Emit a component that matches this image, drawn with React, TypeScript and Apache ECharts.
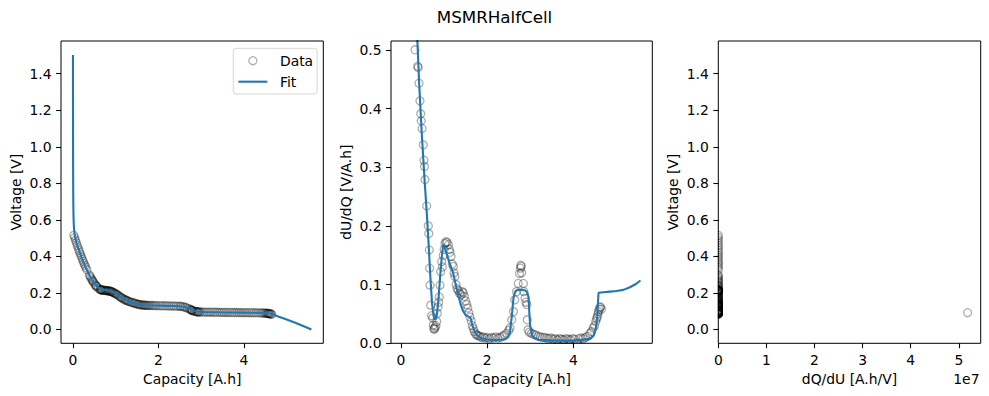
import React, { useEffect, useRef } from "react";
import * as echarts from "echarts";

// ---- measured data (Capacity [A.h], Voltage [V], dU/dQ [V/A.h]) ----
const dataCapacity = [
  0.02, 0.04, 0.06, 0.08, 0.1, 0.12, 0.14, 0.16, 0.18, 0.2, 0.22, 0.24, 0.26, 0.28, 0.3,
  0.325, 0.385, 0.4, 0.418, 0.44, 0.457, 0.47, 0.49, 0.517, 0.534, 0.545, 0.557, 0.596,
  0.634, 0.645, 0.657, 0.665, 0.673, 0.689, 0.71, 0.735, 0.75, 0.76, 0.775, 0.79, 0.81,
  0.83, 0.843, 0.86, 0.875, 0.889, 0.905, 0.92, 0.944, 0.96, 0.98, 1.0, 1.02, 1.044,
  1.07, 1.1, 1.12, 1.137, 1.16, 1.19, 1.214, 1.23, 1.25, 1.28, 1.3, 1.33, 1.36, 1.39,
  1.42, 1.446, 1.47, 1.5, 1.524, 1.55, 1.575, 1.6, 1.63, 1.655, 1.678, 1.7, 1.73, 1.76,
  1.79, 1.83, 1.87, 1.91, 1.95, 2.0, 2.05, 2.1, 2.15, 2.2, 2.25, 2.3, 2.35, 2.4, 2.45,
  2.5, 2.53, 2.57, 2.61, 2.64, 2.68, 2.72, 2.75, 2.77, 2.78, 2.79, 2.8, 2.84, 2.85, 2.88,
  2.9, 2.92, 2.93, 2.95, 2.98, 3.03, 3.08, 3.13, 3.18, 3.23, 3.28, 3.33, 3.38, 3.43,
  3.48, 3.53, 3.58, 3.63, 3.68, 3.73, 3.78, 3.83, 3.88, 3.93, 3.98, 4.03, 4.08, 4.13,
  4.18, 4.23, 4.28, 4.33, 4.385, 4.42, 4.46, 4.49, 4.52, 4.54, 4.556, 4.57, 4.58, 4.6,
  4.617, 4.633, 4.65,
];
const dataVoltage = [
  0.515, 0.502, 0.488, 0.474, 0.46, 0.447, 0.434, 0.421, 0.408, 0.396, 0.384, 0.372, 0.361, 0.35, 0.339,
  0.326, 0.298, 0.291, 0.283, 0.274, 0.267, 0.262, 0.255, 0.246, 0.24, 0.237, 0.234, 0.226,
  0.219, 0.218, 0.217, 0.216, 0.2155, 0.215, 0.2145, 0.214, 0.2135, 0.2133, 0.213, 0.2125, 0.212,
  0.211, 0.2107, 0.21, 0.209, 0.208, 0.207, 0.205, 0.202, 0.2, 0.198, 0.195, 0.192, 0.189,
  0.184, 0.179, 0.176, 0.173, 0.17, 0.166, 0.163, 0.161, 0.159, 0.156, 0.154, 0.151, 0.149, 0.147,
  0.145, 0.143, 0.141, 0.139, 0.138, 0.136, 0.135, 0.134, 0.1335, 0.133, 0.1325, 0.132, 0.1317, 0.1315,
  0.1312, 0.131, 0.1307, 0.1305, 0.1302, 0.13, 0.1297, 0.1295, 0.1292, 0.129, 0.1287, 0.1285, 0.128, 0.1275, 0.127,
  0.1265, 0.1258, 0.1245, 0.1225, 0.12, 0.1165, 0.1125, 0.109, 0.1065, 0.1052, 0.104, 0.1028, 0.1, 0.099, 0.0975,
  0.0965, 0.096, 0.0958, 0.0955, 0.0952, 0.095, 0.0948, 0.0946, 0.0944, 0.0942, 0.094, 0.0939, 0.0937, 0.0935,
  0.0934, 0.0932, 0.093, 0.0929, 0.0927, 0.0926, 0.0924, 0.0923, 0.0921, 0.092, 0.0919, 0.0918, 0.0917, 0.0916,
  0.0914, 0.0912, 0.091, 0.0908, 0.0905, 0.0902, 0.0898, 0.0893, 0.0888, 0.0883, 0.0878, 0.0872, 0.0866, 0.0858,
  0.085, 0.084, 0.083,
];
const dataDUdQ = [
  0.8, 0.78, 0.75, 0.72, 0.7, 0.68, 0.66, 0.64, 0.62, 0.6, 0.59, 0.57, 0.56, 0.55, 0.53,
  0.5, 0.472, 0.47, 0.443, 0.413, 0.391, 0.379, 0.366, 0.338, 0.312, 0.301, 0.279, 0.234,
  0.2, 0.187, 0.159, 0.128, 0.099, 0.065, 0.047, 0.043, 0.031, 0.025, 0.024, 0.027, 0.03,
  0.037, 0.051, 0.062, 0.07, 0.079, 0.099, 0.122, 0.139, 0.13, 0.15, 0.16, 0.17, 0.173,
  0.172, 0.168, 0.16, 0.155, 0.148, 0.135, 0.131, 0.12, 0.114, 0.1, 0.093, 0.09, 0.085, 0.083,
  0.088, 0.086, 0.08, 0.072, 0.066, 0.06, 0.052, 0.045, 0.038, 0.03, 0.025, 0.02, 0.016, 0.014,
  0.013, 0.012, 0.01, 0.011, 0.009, 0.01, 0.008, 0.01, 0.009, 0.011, 0.009, 0.01, 0.012, 0.014, 0.017,
  0.022, 0.026, 0.04, 0.054, 0.074, 0.088, 0.102, 0.119, 0.128, 0.133, 0.131, 0.12, 0.102, 0.088, 0.077,
  0.07, 0.066, 0.04, 0.023, 0.019, 0.017, 0.015, 0.014, 0.012, 0.011, 0.01, 0.01, 0.009, 0.008,
  0.009, 0.007, 0.008, 0.006, 0.008, 0.007, 0.006, 0.008, 0.007, 0.006, 0.008, 0.007, 1.93e-8, 0.008,
  0.009, 0.008, 0.01, 0.012, 0.017, 0.02, 0.026, 0.03, 0.037, 0.042, 0.045, 0.05, 0.054, 0.058,
  0.061, 0.062, 0.058,
];

// ---- fitted model ----
const fitCapacity = [
  0, 0.001, 0.002, 0.004, 0.006, 0.008, 0.01, 0.015, 0.02, 0.03, 0.05, 0.1, 0.2, 0.3, 0.4, 0.5,
  0.6, 0.7, 0.8, 0.9, 1.0, 1.1, 1.2, 1.3, 1.4, 1.5, 1.6, 1.7, 1.8, 2.0, 2.2, 2.4, 2.5, 2.6,
  2.7, 2.8, 2.9, 3.0, 3.1, 3.3, 3.6, 4.0, 4.3, 4.5, 4.58, 4.65, 4.8, 5.0, 5.2, 5.4, 5.577,
];
const fitVoltage = [
  1.503, 1.2, 1.0, 0.85, 0.75, 0.69, 0.65, 0.6, 0.57, 0.54, 0.505, 0.46, 0.393, 0.338, 0.29, 0.252,
  0.228, 0.218, 0.214, 0.209, 0.196, 0.18, 0.166, 0.154, 0.146, 0.14, 0.1355, 0.132, 0.131, 0.13, 0.129, 0.128, 0.127, 0.1245,
  0.116, 0.107, 0.098, 0.095, 0.0945, 0.094, 0.093, 0.092, 0.091, 0.09, 0.088, 0.084, 0.071, 0.054, 0.036, 0.017, 0.0,
];
const fitDerivCapacity = [
  0.3, 0.34, 0.38, 0.42, 0.48, 0.55, 0.6, 0.64, 0.68, 0.72, 0.76, 0.79, 0.83, 0.87, 0.91, 0.95,
  0.98, 1.0, 1.06, 1.14, 1.21, 1.27, 1.33, 1.39, 1.44, 1.5, 1.58, 1.62, 1.65, 1.7, 1.76, 1.85,
  2.0, 2.2, 2.4, 2.48, 2.53, 2.57, 2.61, 2.65, 2.7, 2.8, 2.88, 2.93, 2.96, 2.98, 3.0, 3.05,
  3.1, 3.2, 3.6, 4.0, 4.39, 4.47, 4.52, 4.555, 4.575, 4.585, 4.7, 4.85, 5.0, 5.16, 5.3, 5.45, 5.557,
];
const fitDUdQ = [
  0.64, 0.575, 0.515, 0.445, 0.36, 0.275, 0.22, 0.17, 0.115, 0.068, 0.045, 0.04, 0.047, 0.075, 0.115, 0.15,
  0.168, 0.167, 0.152, 0.134, 0.12, 0.1, 0.082, 0.065, 0.055, 0.048, 0.045, 0.042, 0.032, 0.022, 0.014, 0.009,
  0.0065, 0.0057, 0.0065, 0.01, 0.02, 0.045, 0.077, 0.088, 0.091, 0.091, 0.09, 0.087, 0.078, 0.05, 0.028, 0.012,
  0.0085, 0.006, 0.0045, 0.0045, 0.0075, 0.013, 0.025, 0.045, 0.075, 0.086, 0.087, 0.088, 0.089, 0.091, 0.095, 0.101, 0.107,
];

// ---- ticks ----
const voltageTicks = [0, 0.2, 0.4, 0.6, 0.8, 1.0, 1.2, 1.4];
const derivTicks = [0, 0.1, 0.2, 0.3, 0.4, 0.5];
const capacityTicks = [0, 2, 4];
const dqduTicks = [0, 1e7, 2e7, 3e7, 4e7, 5e7];

const FONT = "DejaVu Sans";
const FS = 13.9;
const FIT = "#1f77b4";
const EDGE = "rgba(0,0,0,0.4)";

function axis(opts: any) {
  const { min, max, ticks, fmt, name, nameGap, gridIndex, isY } = opts;
  return {
    type: "value",
    gridIndex,
    min,
    max,
    z: 10,
    name,
    nameLocation: "middle",
    nameGap,
    nameRotate: isY ? 90 : 0,
    nameTextStyle: { fontFamily: FONT, fontSize: FS, color: "#000" },
    axisLine: { show: false, onZero: false },
    splitLine: { show: false },
    axisTick: {
      show: true,
      inside: false,
      length: 4.9,
      customValues: ticks,
      lineStyle: { color: "#000", width: 1.1 },
    },
    axisLabel: {
      show: true,
      margin: 9.5,
      customValues: ticks,
      formatter: fmt,
      fontFamily: FONT,
      fontSize: FS,
      color: "#000",
    },
  };
}

export default function App() {
  const ref = useRef<HTMLDivElement>(null);
  useEffect(() => {
    if (!ref.current) return;
    const chart = echarts.init(ref.current, null, { renderer: "svg" });

    const vData = dataCapacity.map((c, i) => [c, dataVoltage[i]]);
    const dData = dataCapacity.map((c, i) => [c, dataDUdQ[i]]);
    const qData = dataDUdQ.map((d, i) => [1 / d, dataVoltage[i]]);
    const vFit = fitCapacity.map((c, i) => [c, fitVoltage[i]]);
    const dFit = fitDerivCapacity.map((c, i) => [c, fitDUdQ[i]]);

    const one = (v: number) => v.toFixed(1);
    const int = (v: number) => String(Math.round(v));
    const e7 = (v: number) => String(Math.round(v / 1e7));

    const grids = [
      { left: 61, top: 41, width: 262.3, height: 302.3 },
      { left: 391, top: 41, width: 261.3, height: 302.3 },
      { left: 718.3, top: 41, width: 262.4, height: 302.3 },
    ].map((g) => ({
      ...g,
      show: true,
      z: 10,
      borderColor: "#000",
      borderWidth: 1,
      backgroundColor: "transparent",
      containLabel: false,
      outerBoundsMode: "none",
    }));

    const scatterStyle = {
      type: "scatter",
      symbol: "circle",
      symbolSize: 8,
      silent: true,
      itemStyle: { color: "rgba(0,0,0,0)", borderColor: EDGE, borderWidth: 1.3 },
      z: 2,
    };
    const lineStyle = {
      type: "line",
      symbol: "none",
      showSymbol: false,
      silent: true,
      lineStyle: { color: FIT, width: 2.1 },
      itemStyle: { color: FIT },
      z: 3,
    };

    chart.setOption({
      animation: false,
      title: {
        text: "MSMRHalfCell",
        left: "center",
        top: 8,
        padding: 0,
        textStyle: { fontFamily: FONT, fontSize: 16.7, fontWeight: "normal", color: "#000" },
      },
      legend: {
        orient: "vertical",
        left: 233.3,
        top: 48.3,
        itemWidth: 29,
        itemHeight: 8,
        itemGap: 7,
        padding: [5.4, 4, 5.3, 4],
        selectedMode: false,
        backgroundColor: "rgba(255,255,255,0.8)",
        borderColor: "rgba(204,204,204,0.8)",
        borderWidth: 1,
        borderRadius: 3,
        textStyle: { fontFamily: FONT, fontSize: FS, color: "#000", padding: [0, 0, 0, 7.6] },
        data: [
          {
            name: "Data",
            icon: "circle",
            itemStyle: { color: "rgba(0,0,0,0)", borderColor: EDGE, borderWidth: 1.3 },
          },
          {
            name: "Fit",
            lineStyle: { color: FIT, width: 2.1 },
            itemStyle: { color: "rgba(0,0,0,0)", borderColor: "rgba(0,0,0,0)", borderWidth: 0 },
          },
        ],
      },
      grid: grids,
      xAxis: [
        axis({ gridIndex: 0, min: -0.28, max: 5.856, ticks: capacityTicks, fmt: int, name: "Capacity [A.h]", nameGap: 29 }),
        axis({ gridIndex: 1, min: -0.232, max: 5.832, ticks: capacityTicks, fmt: int, name: "Capacity [A.h]", nameGap: 29 }),
        axis({ gridIndex: 2, min: 0, max: 5.454e7, ticks: dqduTicks, fmt: e7, name: "dQ/dU [A.h/V]", nameGap: 29 }),
      ],
      yAxis: [
        axis({ gridIndex: 0, min: -0.076, max: 1.579, ticks: voltageTicks, fmt: one, name: "Voltage [V]", nameGap: 38, isY: true }),
        axis({ gridIndex: 1, min: 0, max: 0.515, ticks: derivTicks, fmt: one, name: "dU/dQ [V/A.h]", nameGap: 38, isY: true }),
        axis({ gridIndex: 2, min: -0.076, max: 1.579, ticks: voltageTicks, fmt: one, name: "Voltage [V]", nameGap: 38, isY: true }),
      ],
      graphic: [
        { type: "rect", z: 5, silent: true, shape: { x: 708.8, y: 38, width: 9, height: 308 }, style: { fill: "#fff" } },
        { type: "rect", z: 5, silent: true, shape: { x: 388, y: 343.9, width: 268, height: 5 }, style: { fill: "#fff" } },
        {
          type: "text",
          z: 12,
          x: 979.5,
          y: 379,
          style: { text: "1e7", fontFamily: FONT, fontSize: FS, fill: "#000", align: "right", verticalAlign: "middle" },
        },
      ],
      series: [
        { ...scatterStyle, name: "Data", xAxisIndex: 0, yAxisIndex: 0, data: vData },
        { ...lineStyle, name: "Fit", xAxisIndex: 0, yAxisIndex: 0, data: vFit },
        { ...scatterStyle, name: "Data", xAxisIndex: 1, yAxisIndex: 1, data: dData },
        { ...lineStyle, name: "Fit", xAxisIndex: 1, yAxisIndex: 1, data: dFit },
        { ...scatterStyle, name: "Data", xAxisIndex: 2, yAxisIndex: 2, data: qData },
      ],
    });
    return () => chart.dispose();
  }, []);
  return <div ref={ref} style={{ position: "absolute", left: 0, top: 0, width: 989, height: 396 }} />;
}
